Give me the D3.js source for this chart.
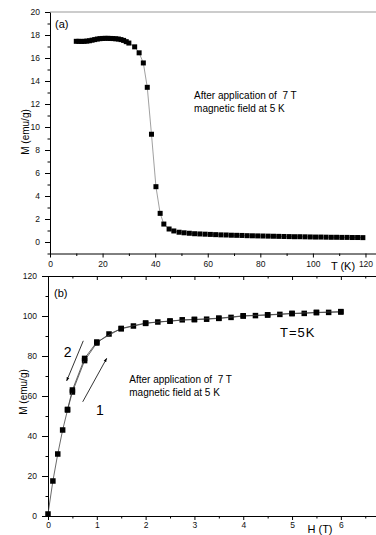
<!DOCTYPE html>
<meta charset="utf-8">
<script src="https://d3js.org/d3.v7.min.js"></script>
<style>
  body { margin: 0; background: #fff; }
  svg { display: block; font-family: "Liberation Sans", Arial, sans-serif; }
</style>
<div id="chart"></div>
<script>

// (a) magnetisation vs temperature after 7 T at 5 K
var temperature = [10, 11, 12, 13, 14, 15, 16, 17, 18, 19, 20, 21, 22, 23, 24, 25, 26, 27, 28, 29, 30,
  32.2, 33.9, 35.5, 37, 38.6, 40.3, 41.9, 43.3, 45.3, 47.1, 49.1,
  51, 53, 55, 57, 59, 61, 63, 65, 67, 69, 71, 73, 75, 77, 79, 81, 83, 85, 87, 89,
  91, 93, 95, 97, 99, 101, 103, 105, 107, 109, 111, 113, 115, 117, 119];
var magT = [17.45, 17.45, 17.44, 17.45, 17.47, 17.5, 17.55, 17.6, 17.65, 17.68, 17.7, 17.71, 17.71, 17.7, 17.69, 17.67, 17.65, 17.6, 17.53, 17.42, 17.3,
  16.97, 16.45, 15.57, 13.45, 9.37, 4.81, 2.49, 1.56, 1.13, 0.96, 0.85,
  0.8, 0.76, 0.72, 0.7, 0.68, 0.66, 0.64, 0.62, 0.61, 0.59, 0.58, 0.57, 0.55, 0.54, 0.53, 0.52, 0.51, 0.5, 0.49, 0.48,
  0.47, 0.46, 0.46, 0.45, 0.44, 0.43, 0.43, 0.42, 0.41, 0.41, 0.4, 0.4, 0.39, 0.39, 0.38];

// (b) magnetisation vs field at T = 5 K, branch 1 (up) and branch 2 (down)
var fieldUp = [0, 0.1, 0.2, 0.3, 0.4, 0.5, 0.75, 1, 1.25, 1.5, 1.75, 2, 2.25, 2.5, 2.75, 3,
  3.25, 3.5, 3.75, 4, 4.25, 4.5, 4.75, 5, 5.25, 5.5, 5.75, 6];
var magUp = [1, 17.5, 31, 43, 53, 62, 77.7, 86.5, 91, 93.6, 95, 96.3, 97, 97.4, 98.1, 98.2,
  98.4, 98.8, 99.3, 100, 100.2, 100.5, 100.8, 101.2, 101.3, 101.7, 101.8, 102];
var fieldDown = [6, 5.5, 5, 4.5, 4, 3.5, 3, 2.5, 2, 1.5, 1, 0.75, 0.5, 0.4];
var magDown = [102.2, 101.8, 101.3, 100.6, 100.1, 98.9, 98.3, 97.5, 96.5, 93.8, 87, 78.8, 63, 53.3];

var tTicks = [0, 20, 40, 60, 80, 100, 120];
var mTicksA = [0, 2, 4, 6, 8, 10, 12, 14, 16, 18, 20];
var hTicks = [0, 1, 2, 3, 4, 5, 6];
var mTicksB = [0, 20, 40, 60, 80, 100, 120];

var width = 376, height = 535;

var svg = d3.select("#chart")
  .append("svg")
    .attr("width", width)
    .attr("height", height);

var xA = d3.scaleLinear().domain([0, 124]).range([50, 376]);
var yA = d3.scaleLinear().domain([-1, 20]).range([253.5, 12]);
var xB = d3.scaleLinear().domain([0, 6.72]).range([48, 376]);
var yB = d3.scaleLinear().domain([0, 120]).range([516, 276]);

function styleAxis(g, fs) {
  g.selectAll("path").attr("stroke", "#000").attr("stroke-width", 1);
  g.selectAll("line").attr("stroke", "#000").attr("stroke-width", 1);
  g.selectAll("text").attr("fill", "#111").style("font-size", fs + "px");
}
function minor(g) {
  g.select(".domain").remove();
  g.selectAll("line").attr("stroke", "#000");
}

// ---------- panel (a) ----------
svg.append("line")
  .attr("x1", xA(0)).attr("x2", width)
  .attr("y1", yA(20)).attr("y2", yA(20))
  .attr("stroke", "#999").attr("stroke-width", 1);

svg.append("g")
  .attr("transform", "translate(0," + yA(-1) + ")")
  .call(d3.axisBottom(xA).tickValues(d3.range(10, 130, 20)).tickSize(2.5).tickFormat(""))
  .call(minor);
svg.append("g")
  .attr("transform", "translate(0," + yA(-1) + ")")
  .call(d3.axisBottom(xA).tickValues(tTicks).tickSize(4).tickPadding(3).tickSizeOuter(0))
  .call(styleAxis, 8.5);

svg.append("g")
  .attr("transform", "translate(" + xA(0) + ",0)")
  .call(d3.axisLeft(yA).tickValues(d3.range(-1, 21, 2)).tickSize(2.5).tickFormat(""))
  .call(minor);
svg.append("g")
  .attr("transform", "translate(" + xA(0) + ",0)")
  .call(d3.axisLeft(yA).tickValues(mTicksA).tickSize(5).tickPadding(5).tickSizeOuter(0))
  .call(styleAxis, 8.5);

var lineA = d3.line()
  .x(function(d, i) { return xA(temperature[i]); })
  .y(function(d) { return yA(d); });
svg.append("path")
  .datum(magT)
  .attr("d", lineA)
  .attr("fill", "none")
  .attr("stroke", "#888")
  .attr("stroke-width", 0.8);

svg.append("g").selectAll("rect")
  .data(magT)
  .enter()
  .append("rect")
    .attr("x", function(d, i) { return xA(temperature[i]) - 2.5; })
    .attr("y", function(d) { return yA(d) - 2.5; })
    .attr("width", 5)
    .attr("height", 5)
    .attr("fill", "#000");

svg.append("text").attr("x", 55).attr("y", 27.5)
  .style("font-size", "11px").text("(a)");
svg.append("text").attr("x", xA(54.8)).attr("y", yA(12.43))
  .style("font-size", "10px").style("white-space", "pre").text("After application of  7 T");
svg.append("text").attr("x", xA(54.8)).attr("y", yA(11.3))
  .style("font-size", "10px").text("magnetic field at 5 K");
svg.append("text").attr("x", 343).attr("y", 270)
  .attr("text-anchor", "middle").style("font-size", "11px").style("white-space", "pre").text("T (K)");
svg.append("text")
  .attr("transform", "translate(29,132) rotate(-90)")
  .attr("text-anchor", "middle").style("font-size", "10px").text("M (emu/g)");

// ---------- panel (b) ----------
svg.append("g")
  .attr("transform", "translate(0," + yB(0) + ")")
  .call(d3.axisBottom(xB).tickValues(d3.range(0.5, 6.6, 1)).tickSize(2.5).tickFormat(""))
  .call(minor);
svg.append("g")
  .attr("transform", "translate(0," + yB(0) + ")")
  .call(d3.axisBottom(xB).tickValues(hTicks).tickFormat(d3.format("d")).tickSize(4).tickPadding(2).tickSizeOuter(0))
  .call(styleAxis, 8.5);

svg.append("g")
  .attr("transform", "translate(0," + yB(120) + ")")
  .call(d3.axisTop(xB).tickValues(d3.range(0.5, 6.6, 1)).tickSize(-2.5).tickFormat(""))
  .call(minor);
svg.append("g")
  .attr("transform", "translate(0," + yB(120) + ")")
  .call(d3.axisTop(xB).tickValues(hTicks).tickSize(-4).tickFormat("").tickSizeOuter(0))
  .call(styleAxis, 8.5);

svg.append("g")
  .attr("transform", "translate(" + xB(0) + ",0)")
  .call(d3.axisLeft(yB).tickValues(d3.range(10, 120, 20)).tickSize(2.5).tickFormat(""))
  .call(minor);
svg.append("g")
  .attr("transform", "translate(" + xB(0) + ",0)")
  .call(d3.axisLeft(yB).tickValues(mTicksB).tickFormat(d3.format("d")).tickSize(6).tickPadding(5).tickSizeOuter(0))
  .call(styleAxis, 8.5);

function branch(hs, ms) {
  var line = d3.line()
    .x(function(d, i) { return xB(hs[i]); })
    .y(function(d) { return yB(d); });
  svg.append("path")
    .datum(ms)
    .attr("d", line)
    .attr("fill", "none")
    .attr("stroke", "#444")
    .attr("stroke-width", 0.8);
  svg.append("g").selectAll("rect")
    .data(ms)
    .enter()
    .append("rect")
      .attr("x", function(d, i) { return xB(hs[i]) - 2.75; })
      .attr("y", function(d) { return yB(d) - 2.75; })
      .attr("width", 5.5)
      .attr("height", 5.5)
      .attr("fill", "#000");
}
branch(fieldUp, magUp);
branch(fieldDown, magDown);

// arrows
svg.append("defs").append("marker")
  .attr("id", "head")
  .attr("viewBox", "0 0 10 10")
  .attr("refX", 9).attr("refY", 5)
  .attr("markerWidth", 5).attr("markerHeight", 5)
  .attr("orient", "auto")
  .append("path")
    .attr("d", "M0,1.5 L10,5 L0,8.5 z")
    .attr("fill", "#000");

var arrows = [
  {from: [0.723, 87.6], to: [0.383, 67.6]},
  {from: [0.711, 57.1], to: [1.202, 78.8]}
];
svg.selectAll(".arrow")
  .data(arrows)
  .enter()
  .append("line")
    .attr("class", "arrow")
    .attr("x1", function(d) { return xB(d.from[0]); })
    .attr("y1", function(d) { return yB(d.from[1]); })
    .attr("x2", function(d) { return xB(d.to[0]); })
    .attr("y2", function(d) { return yB(d.to[1]); })
    .attr("stroke", "#000")
    .attr("stroke-width", 0.8)
    .attr("marker-end", "url(#head)");

svg.append("text").attr("x", xB(0.4)).attr("y", yB(79.5))
  .attr("text-anchor", "middle").style("font-size", "14px").text("2");
svg.append("text").attr("x", xB(1.065)).attr("y", yB(50.5))
  .attr("text-anchor", "middle").style("font-size", "14px").text("1");

svg.append("text").attr("x", 54).attr("y", 296.5)
  .style("font-size", "11px").text("(b)");
svg.append("text").attr("x", xB(1.665)).attr("y", yB(66.5))
  .style("font-size", "10px").style("white-space", "pre").text("After application of  7 T");
svg.append("text").attr("x", xB(1.665)).attr("y", yB(60))
  .style("font-size", "10px").text("magnetic field at 5 K");
svg.append("text").attr("x", 280).attr("y", 337)
  .style("font-size", "13px").style("letter-spacing", "1px").text("T=5K");
svg.append("text").attr("x", 320).attr("y", 533)
  .attr("text-anchor", "middle").style("font-size", "11px").style("white-space", "pre").text("H (T)");
svg.append("text")
  .attr("transform", "translate(27,392) rotate(-90)")
  .attr("text-anchor", "middle").style("font-size", "10px").text("M (emu/g)");

</script>
